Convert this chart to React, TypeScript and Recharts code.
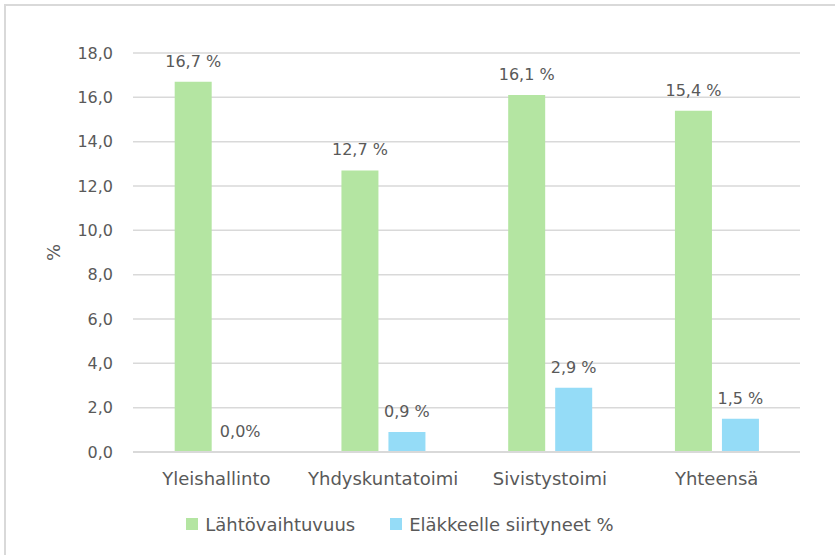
import React from 'react';
import { BarChart, Bar, XAxis, YAxis, CartesianGrid, Legend, LabelList } from 'recharts';

const categories = ['Yleishallinto', 'Yhdyskuntatoimi', 'Sivistystoimi', 'Yhteensä'];
const lahtovaihtuvuus = [16.7, 12.7, 16.1, 15.4];
const elakkeelle = [0.0, 0.9, 2.9, 1.5];
const yTicks = [0, 2, 4, 6, 8, 10, 12, 14, 16, 18];
const seriesNames = ['Lähtövaihtuvuus', 'Eläkkeelle siirtyneet %'];

const GREEN = '#b4e5a2';
const BLUE = '#95dcf7';
const TEXT = '#595959';
const FONT = '"DejaVu Sans", sans-serif';
const BAR_GAP = 10;

const data = categories.map((name, i) => ({
  name,
  lahto: lahtovaihtuvuus[i],
  elake: elakkeelle[i],
}));

const fmtTick = (v: number) => v.toFixed(1).replace('.', ',');
const fmtLabel = (v: number) => (v === 0 ? '0,0%' : v.toFixed(1).replace('.', ',') + ' %');

// plain <text> so the label doesn't wrap to bar width
const BarLabel = (props: any) => {
  const { x, y, width, value } = props;
  return (
    <text
      x={Number(x) + Number(width) / 2}
      y={Number(y) - 15}
      textAnchor="middle"
      fill={TEXT}
      fontSize={16}
      fontFamily={FONT}
    >
      {fmtLabel(Number(value))}
    </text>
  );
};

// recharts skips zero-height bars, so the "0,0%" label is drawn from the
// neighbouring green bar's geometry (one bar width + gap to the right, at the baseline)
const ZeroLabel = (props: any) => {
  const { x, y, width, height, value } = props;
  if (Number(value) !== 0) return null;
  return (
    <text
      x={Number(x) + Number(width) * 1.5 + BAR_GAP}
      y={Number(y) + Number(height) - 15}
      textAnchor="middle"
      fill={TEXT}
      fontSize={16}
      fontFamily={FONT}
    >
      {fmtLabel(0)}
    </text>
  );
};

const CustomLegend = () => (
  <div
    style={{
      height: 24,
      display: 'flex',
      justifyContent: 'center',
      alignItems: 'center',
      fontFamily: FONT,
      fontSize: 18,
      color: TEXT,
    }}
  >
    {seriesNames.map((name, index) => (
      <div key={name} style={{ display: 'flex', alignItems: 'center', marginRight: index === 0 ? 35 : 0 }}>
        <span
          style={{
            width: 12,
            height: 12,
            background: index === 0 ? GREEN : BLUE,
            display: 'inline-block',
            marginRight: 7,
          }}
        />
        <span>{name}</span>
      </div>
    ))}
  </div>
);

export default function App() {
  return (
    <div style={{ position: 'absolute', left: 0, top: 0, width: 835, height: 555, background: '#fff' }}>
      <div
        style={{
          position: 'absolute',
          left: 4,
          top: 4,
          width: 840,
          height: 560,
          borderLeft: '2px solid #d9d9d9',
          borderTop: '2px solid #d9d9d9',
        }}
      />
      <div style={{ position: 'absolute', left: 0, top: 0 }}>
        <BarChart
          width={835}
          height={555}
          data={data}
          margin={{ top: 53, right: 35, left: 0, bottom: 19 }}
          barCategoryGap="25%"
          barGap={BAR_GAP}
        >
          <CartesianGrid vertical={false} stroke="#d9d9d9" strokeWidth={1.5} />
          <XAxis
            dataKey="name"
            axisLine={{ stroke: '#d9d9d9', strokeWidth: 2 }}
            tickLine={false}
            tickSize={0}
            tickMargin={20}
            height={60}
            tick={{ fill: TEXT, fontSize: 18, fontFamily: FONT }}
          />
          <YAxis
            domain={[0, 18]}
            ticks={yTicks}
            interval={0}
            tickFormatter={fmtTick}
            axisLine={false}
            tickLine={false}
            tickSize={0}
            tickMargin={20}
            width={133}
            tick={{ fill: TEXT, fontSize: 16, fontFamily: FONT }}
            label={{ value: '%', angle: -90, position: 'center', dx: -13, fill: TEXT, fontSize: 18, fontFamily: FONT }}
          />
          <Legend verticalAlign="bottom" content={<CustomLegend />} />
          <Bar dataKey="lahto" name={seriesNames[0]} fill={GREEN} isAnimationActive={false}>
            <LabelList dataKey="lahto" content={<BarLabel />} />
            <LabelList dataKey="elake" content={<ZeroLabel />} />
          </Bar>
          <Bar dataKey="elake" name={seriesNames[1]} fill={BLUE} isAnimationActive={false}>
            <LabelList dataKey="elake" content={<BarLabel />} />
          </Bar>
        </BarChart>
      </div>
    </div>
  );
}
